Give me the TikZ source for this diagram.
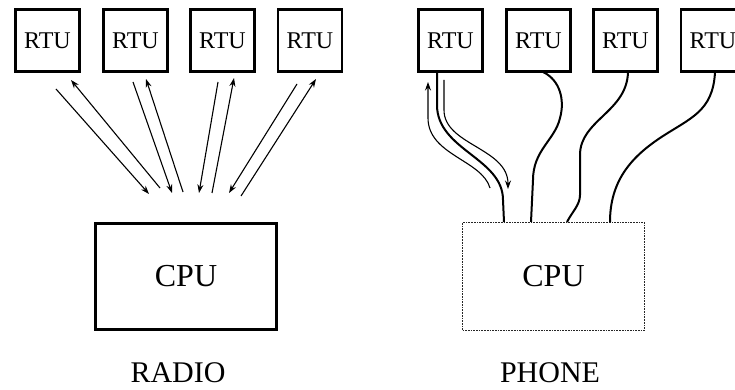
\documentclass[tikz,border=0pt]{standalone}
\usepackage{fontspec}
\setmainfont{Liberation Serif}
\usetikzlibrary{arrows.meta}
\begin{document}
\begin{tikzpicture}[x=1pt,y=-1pt,
  rtubox/.style={draw,line width=2.6pt,minimum width=64pt,minimum height=62pt,inner sep=0pt,font=\fontsize{24}{28}\selectfont},
  cpubox/.style={draw,line width=2.6pt,minimum width=181pt,minimum height=106pt,inner sep=0pt,font=\fontsize{32}{36}\selectfont},
  cpudot/.style={draw=black!85,line width=1.7pt,densely dotted,minimum width=182pt,minimum height=108pt,inner sep=0pt,font=\fontsize{32}{36}\selectfont},
  caption/.style={font=\fontsize{30}{34}\selectfont,inner sep=0pt},
  radio/.style={line width=1.1pt,-{Stealth[length=8.5pt,width=6pt]}},
  wire/.style={line width=2pt},
  thin/.style={line width=1.1pt,-{Stealth[length=8.5pt,width=6pt]}}]
\useasboundingbox (0,0) rectangle (735,390);
% left side
\node[rtubox] (l1) at (47.5,40.5) {RTU};
\node[rtubox] (l2) at (135.5,40.5) {RTU};
\node[rtubox] (l3) at (222.5,40.5) {RTU};
\node[rtubox] (l4) at (310,40.5) {RTU};
\node[cpubox] (lc) at (186,276.5) {CPU};
\node[caption] (lrad) at (178,373) {RADIO};
% radio arrows
\coordinate (d1s) at (56,89);   \coordinate (d1e) at (149,194);
\coordinate (u1s) at (160,188); \coordinate (u1e) at (71,80);
\coordinate (d2s) at (133,82);  \coordinate (d2e) at (172,193);
\coordinate (u2s) at (183,192); \coordinate (u2e) at (146,79);
\coordinate (d3s) at (218,82);  \coordinate (d3e) at (199,193);
\coordinate (u3s) at (212,193); \coordinate (u3e) at (234,78);
\coordinate (d4s) at (297,84);  \coordinate (d4e) at (229,193);
\coordinate (u4s) at (241,196); \coordinate (u4e) at (316,79);
\draw[radio] (d1s) -- (d1e);
\draw[radio] (u1s) -- (u1e);
\draw[radio] (d2s) -- (d2e);
\draw[radio] (u2s) -- (u2e);
\draw[radio] (d3s) -- (d3e);
\draw[radio] (u3s) -- (u3e);
\draw[radio] (d4s) -- (d4e);
\draw[radio] (u4s) -- (u4e);
% right side
\node[rtubox] (r1) at (450.5,40.5) {RTU};
\node[rtubox] (r2) at (538.5,40.5) {RTU};
\node[rtubox] (r3) at (625.5,40.5) {RTU};
\node[rtubox] (r4) at (713,40.5) {RTU};
\node[cpudot] (rc) at (553.5,276.5) {CPU};
\node[caption] (rph) at (550,373) {PHONE};
% wires
\coordinate (w1a) at (437,72);  \coordinate (w1b) at (504,222);
\coordinate (w2a) at (543,72);  \coordinate (w2b) at (531,222);
\coordinate (w3a) at (628,72);  \coordinate (w3b) at (567,222);
\coordinate (w4a) at (715,72);  \coordinate (w4b) at (610,222);
\draw[wire] (w1a) -- (437,105) .. controls (437,150) and (503,158) .. (503,200) -- (w1b);
\draw[wire] (w2a) .. controls (560,80) and (565,100) .. (560,118) .. controls (555,140) and (533,150) .. (533,180) -- (w2b);
\draw[wire] (w3a) .. controls (627,112) and (580,120) .. (580,155) -- (580,195) .. controls (580,205) and (572,212) .. (w3b);
\draw[wire] (w4a) .. controls (713,112) and (690,118) .. (660,138) .. controls (630,158) and (610,182) .. (w4b);
% thin signal arrows
\coordinate (t1s) at (490,188); \coordinate (t1e) at (428,82);
\coordinate (t2s) at (444,80);  \coordinate (t2e) at (508,189);
\draw[thin] (t1s) .. controls (482,160) and (428,155) .. (428,118) -- (t1e);
\draw[thin] (t2s) -- (444,110) .. controls (444,145) and (508,148) .. (t2e);
\end{tikzpicture}
\end{document}
